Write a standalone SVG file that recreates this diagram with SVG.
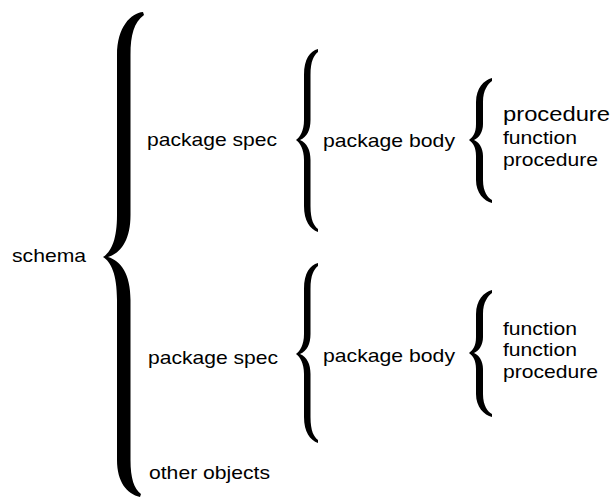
<svg xmlns="http://www.w3.org/2000/svg" width="613" height="499" viewBox="0 0 613 499">
<style>
text{font-family:"Liberation Sans",Arial,sans-serif;font-size:19px;fill:#000}
.big{font-size:21px}
.brace{fill:#000;stroke:none}
</style>
<rect width="613" height="499" fill="#fff"/>
<g id="connectors">
<path class="brace" d="M 143,12 C 131,13 117,27 117,55 L 117,215 C 117,240 111,252 103,257 C 111,262 117,274 117,300 L 117,460 C 117,482 127,494 140,497 L 141,494 C 134,489 130.5,478 130.5,460 L 130.5,300 C 130.5,274 121,261 108,257 C 121,253 130.5,240 130.5,215 L 130.5,55 C 130.5,35 134,22 144,15 Z"/>
<path class="brace" d="M 318,49 C 310,51 304,59 304,75 L 304,120 C 304,131 300,137 296,140 C 300,143 304,149 304,160 L 304,206 C 304,221 310,229 318,232 L 318,229 C 314,226 310.5,220 310.5,206 L 310.5,160 C 310.5,150 307,143 300,140 C 307,137 310.5,130 310.5,120 L 310.5,75 C 310.5,61 314,55 318,52 Z"/>
<path class="brace" d="M 318,263 C 310,265 304,273 304,289 L 304,334 C 304,345 300,351 296,354 C 300,357 304,363 304,374 L 304,417 C 304,432 310,440 318,443 L 318,440 C 314,437 310.5,431 310.5,417 L 310.5,374 C 310.5,364 307,357 300,354 C 307,351 310.5,344 310.5,334 L 310.5,289 C 310.5,275 314,269 318,266 Z"/>
<path class="brace" d="M 492,78 C 484,80 476,88 476,102 L 476,124 C 476,133 473,137 469,140 C 473,143 476,147 476,156 L 476,180 C 476,193 484,201 492,203 L 492,200 C 488,198 483,192 483,180 L 483,156 C 483,148 479,142 474,140 C 479,138 483,132 483,124 L 483,102 C 483,90 488,84 492,81 Z"/>
<path class="brace" d="M 492,290 C 484,292 476,300 476,314 L 476,337 C 476,346 473,350 469,353 C 473,356 476,360 476,369 L 476,394 C 476,407 484,415 492,417 L 492,414 C 488,412 483,406 483,394 L 483,369 C 483,361 479,355 474,353 C 479,351 483,345 483,337 L 483,314 C 483,302 488,296 492,293 Z"/>
</g>
<g id="schema"><text x="12" y="262" textLength="74" lengthAdjust="spacingAndGlyphs">schema</text></g>
<g id="spec1"><text x="147" y="146" textLength="130" lengthAdjust="spacingAndGlyphs">package spec</text></g>
<g id="spec2"><text x="148" y="364" textLength="130" lengthAdjust="spacingAndGlyphs">package spec</text></g>
<g id="other"><text x="149" y="479" textLength="121" lengthAdjust="spacingAndGlyphs">other objects</text></g>
<g id="body1"><text x="323" y="147" textLength="132" lengthAdjust="spacingAndGlyphs">package body</text></g>
<g id="body2"><text x="323" y="362" textLength="132" lengthAdjust="spacingAndGlyphs">package body</text></g>
<g id="members1">
<text class="big" x="503" y="121" textLength="107" lengthAdjust="spacingAndGlyphs">procedure</text>
<text x="503" y="144" textLength="74" lengthAdjust="spacingAndGlyphs">function</text>
<text x="503" y="166" textLength="95" lengthAdjust="spacingAndGlyphs">procedure</text>
</g>
<g id="members2">
<text x="503" y="335" textLength="74" lengthAdjust="spacingAndGlyphs">function</text>
<text x="503" y="356" textLength="74" lengthAdjust="spacingAndGlyphs">function</text>
<text x="503" y="378" textLength="95" lengthAdjust="spacingAndGlyphs">procedure</text>
</g>
</svg>
